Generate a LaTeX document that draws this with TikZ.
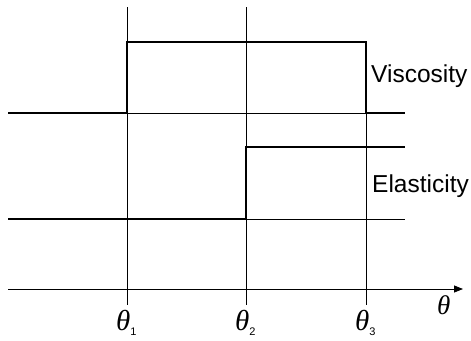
\documentclass[tikz,border=0pt]{standalone}
\usepackage{fontspec}
\setmainfont{Liberation Sans}
\newfontfamily\thfont{Liberation Serif}
\usetikzlibrary{arrows.meta}
\newcommand{\thsub}[1]{{\thfont\itshape θ}\raisebox{-5pt}{\fontsize{11}{11}\selectfont #1}}
\begin{document}
\begin{tikzpicture}[x=1pt,y=-1pt,
  thinl/.style={line width=0.8pt,black},
  thickl/.style={line width=2.5pt,black},
  lbl/.style={font=\fontsize{24.5}{25}\selectfont,anchor=base west,inner sep=0pt},
  thlbl/.style={font=\fontsize{29}{30}\selectfont,inner sep=0pt,anchor=base west}]
\useasboundingbox (0,0) rectangle (471,340);
% coordinates
\coordinate (g1t) at (127,7);   \coordinate (g1b) at (127,305);
\coordinate (g2t) at (246,7);   \coordinate (g2b) at (246,305);
\coordinate (g3t) at (366,42);  \coordinate (g3b) at (366,305);
\coordinate (vL) at (8,113); \coordinate (v1) at (127,113); \coordinate (v1u) at (127,42);
\coordinate (v3u) at (366,42); \coordinate (v3) at (366,113); \coordinate (vR) at (405,113);
\coordinate (eL) at (8,219); \coordinate (e2) at (246,219); \coordinate (e2u) at (246,147);
\coordinate (eRu) at (405,147); \coordinate (eR) at (405,219);
\coordinate (aL) at (8,289); \coordinate (aR) at (463,289);
% thin grid lines
\draw[thinl] (g1t) -- (g1b);
\draw[thinl] (g2t) -- (g2b);
\draw[thinl] (g3t) -- (g3b);
\draw[thinl] (v1) -- (v3);
\draw[thinl] (e2) -- (eR);
% axis
\draw[thinl,-{Triangle[length=9pt,width=7pt]}] (aL) -- (aR);
% viscosity
\draw[thickl,line join=miter] (vL) -- (v1) -- (v1u) -- (v3u) -- (v3) -- (vR);
% elasticity
\draw[thickl,line join=miter] (eL) -- (e2) -- (e2u) -- (eRu);
% labels
\node[lbl] (visc) at (371,82) {Viscosity};
\node[lbl] (elas) at (372,192) {Elasticity};
\node[thlbl] (t1) at (116,330) {\thsub{1}};
\node[thlbl] (t2) at (235,330) {\thsub{2}};
\node[thlbl] (t3) at (355,330) {\thsub{3}};
\node[thlbl,font=\fontsize{27}{28}\selectfont] (th) at (437,314) {\thfont\itshape θ};
\end{tikzpicture}
\end{document}
